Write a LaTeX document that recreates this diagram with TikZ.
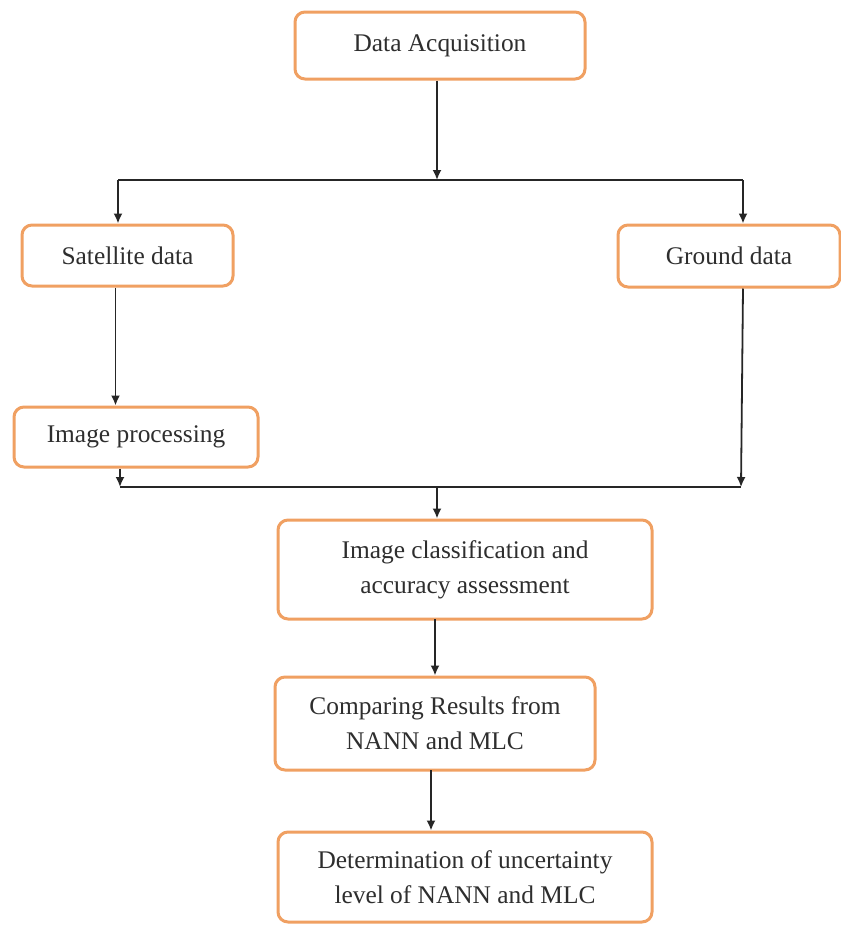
\documentclass[tikz,border=0pt]{standalone}
\usepackage{fontspec}
\setmainfont{Liberation Serif}
\usetikzlibrary{arrows.meta}
\definecolor{boxorange}{HTML}{F0A062}
\definecolor{txtgray}{HTML}{2E2E2E}
\begin{document}
\begin{tikzpicture}[x=0.5pt,y=-0.5pt,
  box/.style={draw=boxorange,line width=1.5pt,rounded corners=5pt,fill=white,
    text=txtgray,align=center,inner sep=0pt,
    font=\fontsize{12.7}{17.5}\selectfont},
  conn/.style={draw=black!85,line width=0.9pt},
  arr/.style={conn,-{Latex[length=5pt,width=4.5pt]}}]
\useasboundingbox (0,0) rectangle (841,927);
% boxes: minimum width/height in pt = px/2
\node[box,minimum width=145pt,minimum height=33.5pt] (da) at (440,45.5) {Data Acquisition};
\node[box,minimum width=105.5pt,minimum height=30.5pt] (sat) at (127.5,255.5) {Satellite data};
\node[box,minimum width=111pt,minimum height=31pt] (gd) at (729,256) {Ground data};
\node[box,minimum width=122pt,minimum height=30pt] (ip) at (136,437) {Image processing};
\node[box,minimum width=187pt,minimum height=49.5pt] (ic) at (465,569.5) {Image classification and\\accuracy assessment};
\node[box,minimum width=160pt,minimum height=46.5pt] (cr) at (435,723.5) {Comparing Results from\\NANN and MLC};
\node[box,minimum width=187pt,minimum height=45pt] (dt) at (465,877) {Determination of uncertainty\\level of NANN and MLC};
% junction coordinates
\coordinate (j1) at (437,180);
\coordinate (j1l) at (118,180);
\coordinate (j1r) at (743,180);
\coordinate (j2) at (437,487);
\coordinate (j2l) at (120,487);
\coordinate (j2r) at (741,487);
% connectors
\draw[arr] (da.south -| j1) -- (j1);
\draw[conn] (j1l) -- (j1r);
\draw[arr] (j1l) -- (j1l |- sat.north);
\draw[arr] (j1r) -- (j1r |- gd.north);
\draw[arr] ([xshift=-6pt]sat.south) -- ([xshift=-6pt]sat.south |- ip.north);
\draw[arr] (j2l |- ip.south) -- (j2l);
\draw[arr] (j1r |- gd.south) -- (j2r);
\draw[conn] (j2l) -- (j2r);
\draw[arr] (j2) -- (j2 |- ic.north);
\draw[arr] (435,619) -- (435,0 |- cr.north);
\draw[arr] (431,770) -- (431,0 |- dt.north);
\end{tikzpicture}
\end{document}
